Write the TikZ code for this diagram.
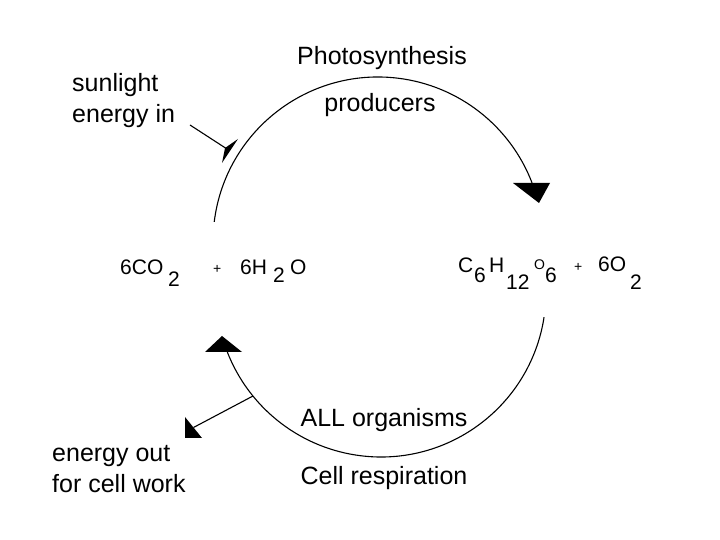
\documentclass[tikz,border=0pt]{standalone}
\usepackage{fontspec}
\setmainfont{Liberation Sans}
\usetikzlibrary{arrows.meta}
\newcommand\gl[3]{\rlap{\hspace*{#1pt}\raisebox{#2pt}{#3}}}
\newcommand\smallglyph[1]{{\fontsize{14}{14}\selectfont #1}}
\begin{document}
\begin{tikzpicture}[x=1pt,y=1pt,
  lbl/.style={font=\fontsize{25}{31}\selectfont, inner sep=0pt},
  eq/.style={font=\fontsize{21}{21}\selectfont, inner sep=0pt, anchor=base west},
  curve/.style={line width=1.1pt, black},
  head/.style={fill=black}]
\useasboundingbox (0,0) rectangle (720,540);

% labels
\node[lbl, anchor=base west, align=left] (sun) at (72,417) {sunlight\\energy in};
\node[lbl, anchor=base] (photo) at (382,475) {Photosynthesis};
\node[lbl, anchor=base] (prod) at (380,428) {producers};
\node[lbl, anchor=base] (all) at (384,113) {ALL organisms};
\node[lbl, anchor=base] (resp) at (384,55) {Cell respiration};
\node[lbl, anchor=base west, align=left] (out) at (52,47) {energy out\\for cell work};

% equations
\node[eq] (left) at (120,265) {\gl{0}{0}{6CO}\gl{48}{-12}{2}\gl{93}{1}{\smallglyph{+}}\gl{120}{0}{6H}\gl{153}{-8}{2}\gl{170}{0}{O}\hspace*{185pt}};
\node[eq] (right) at (458,267) {\gl{0}{0}{C}\gl{16}{-10}{6}\gl{31}{0}{H}\gl{48}{-17}{12}\gl{76}{3}{\smallglyph{O}}\gl{87}{-10}{6}\gl{116}{1}{\smallglyph{+}}\gl{140}{1}{6O}\gl{172}{-17}{2}\hspace*{186pt}};

% cycle arcs
\coordinate (ct) at (378,298);
\coordinate (cb) at (381,248);
\draw[curve] (ct) ++(173:165) arc[start angle=173, end angle=21, radius=165];
\fill[head] (513,357) -- (550,357) -- (539,337) -- cycle;
\draw[curve] (cb) ++(-8.8:165) arc[start angle=-8.8, end angle=-158.7, radius=165];
\fill[head] (205,188) -- (242,188) -- (222,204) -- cycle;

% energy in / out arrows
\coordinate (sunstart) at (190,415);
\coordinate (sunend) at (227,391);
\draw[curve] (sunstart) -- (sunend);
\fill[head] (238,401) -- (222,377) -- (225,392) -- cycle;
\coordinate (outstart) at (253,144);
\coordinate (outend) at (193.5,112.5);
\draw[curve] (outstart) -- (outend);
\fill[head] (185,123) -- (185,102) -- (202,102) -- cycle;
\end{tikzpicture}
\end{document}
